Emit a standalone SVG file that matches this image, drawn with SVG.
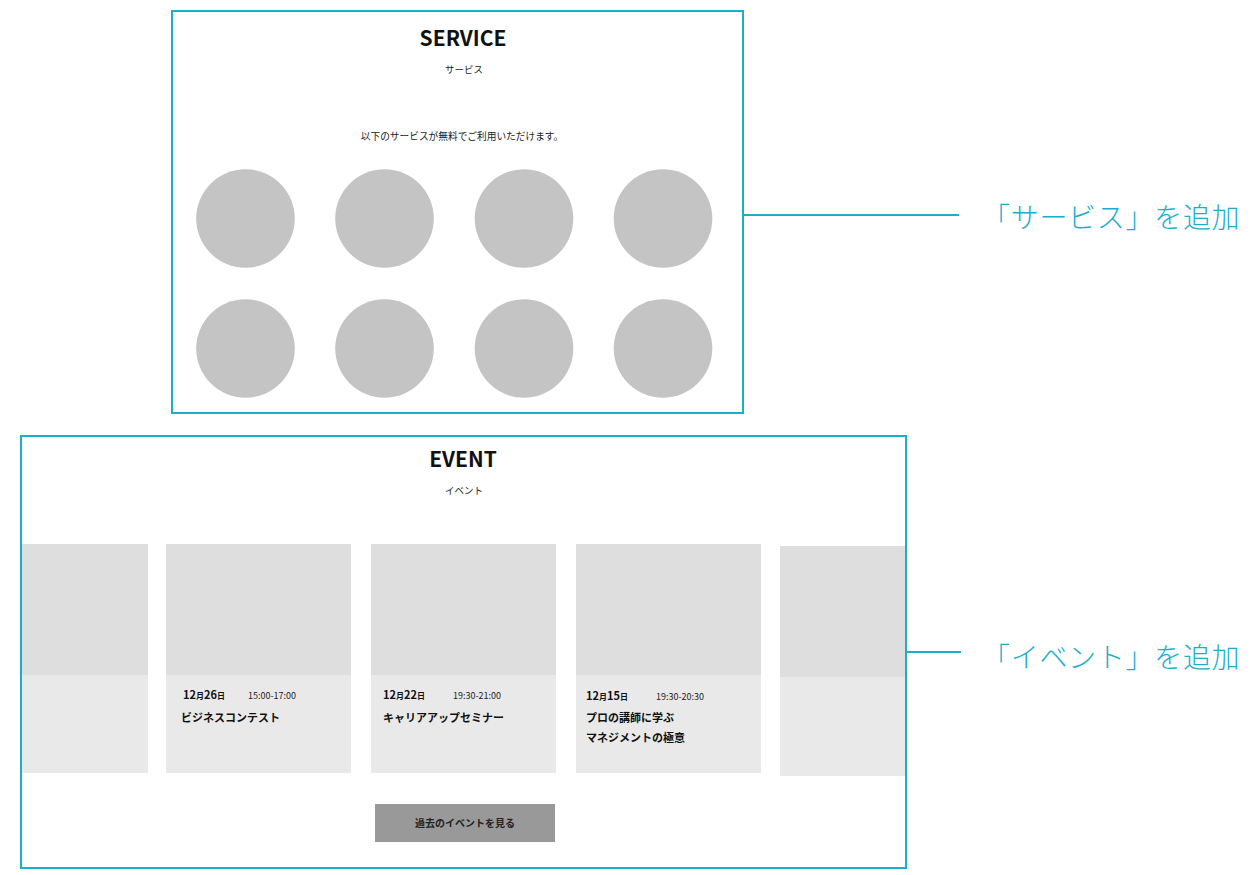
<svg xmlns="http://www.w3.org/2000/svg" width="1250" height="875" viewBox="0 0 1250 875">
<style>
.frame{fill:#fff;stroke:#1BAECB;stroke-width:2}
.conn{stroke:#1BAECB;stroke-width:2;fill:none}
.note{font-family:"Noto Sans CJK JP",sans-serif;font-weight:300;font-size:28px;letter-spacing:0.7px;fill:#1BAECB}
.h{font-family:"Noto Sans CJK JP",sans-serif;font-weight:700;font-size:21px;fill:#111;text-anchor:middle}
.sub{font-family:"Noto Sans CJK JP",sans-serif;font-size:9.5px;fill:#222;text-anchor:middle}
.lead{font-family:"Noto Sans CJK JP",sans-serif;font-size:9.7px;fill:#222;text-anchor:middle}
.circ{fill:#C4C4C4}
.img{fill:#DEDEDE}
.body{fill:#E9E9E9}
.date{font-family:"Noto Sans CJK JP",sans-serif;font-weight:700;font-size:11px;fill:#111}
.sm{font-size:8px}
.time{font-family:"Noto Sans CJK JP",sans-serif;font-size:9px;fill:#222}
.title{font-family:"Noto Sans CJK JP",sans-serif;font-weight:700;font-size:11px;fill:#111}
.btn{fill:#999999}
.btnt{font-family:"Noto Sans CJK JP",sans-serif;font-weight:700;font-size:10px;fill:#222;text-anchor:middle}
</style>
<rect width="1250" height="875" fill="#fff"/>
<g id="service">
<rect class="frame" x="172" y="11" width="571" height="402"/>
<text class="h" x="463" y="46">SERVICE</text>
<text class="sub" x="464" y="73">サービス</text>
<text class="lead" x="462" y="140">以下のサービスが無料でご利用いただけます。</text>
<circle class="circ" cx="245.5" cy="218.5" r="49.3"/>
<circle class="circ" cx="384.5" cy="218.5" r="49.3"/>
<circle class="circ" cx="524" cy="218.5" r="49.3"/>
<circle class="circ" cx="663" cy="218.5" r="49.3"/>
<circle class="circ" cx="245.5" cy="348.5" r="49.3"/>
<circle class="circ" cx="384.5" cy="348.5" r="49.3"/>
<circle class="circ" cx="524" cy="348.5" r="49.3"/>
<circle class="circ" cx="663" cy="348.5" r="49.3"/>
</g>
<g id="event">
<rect class="frame" x="21" y="436" width="885" height="432"/>
<text class="h" x="463" y="467">EVENT</text>
<text class="sub" x="464" y="494">イベント</text>
<g id="card0">
<rect class="img" x="22" y="544" width="126" height="131"/>
<rect class="body" x="22" y="675" width="126" height="98"/>
</g>
<g id="card1">
<rect class="img" x="166" y="544" width="185" height="131"/>
<rect class="body" x="166" y="675" width="185" height="98"/>
<text class="date" x="183" y="699">12<tspan class="sm">月</tspan>26<tspan class="sm">日</tspan></text>
<text class="time" x="248" y="699">15:00-17:00</text>
<text class="title" x="181" y="722">ビジネスコンテスト</text>
</g>
<g id="card2">
<rect class="img" x="371" y="544" width="185" height="131"/>
<rect class="body" x="371" y="675" width="185" height="98"/>
<text class="date" x="383" y="699">12<tspan class="sm">月</tspan>22<tspan class="sm">日</tspan></text>
<text class="time" x="453" y="699">19:30-21:00</text>
<text class="title" x="383" y="722">キャリアアップセミナー</text>
</g>
<g id="card3">
<rect class="img" x="576" y="544" width="185" height="131"/>
<rect class="body" x="576" y="675" width="185" height="98"/>
<text class="date" x="586" y="700">12<tspan class="sm">月</tspan>15<tspan class="sm">日</tspan></text>
<text class="time" x="656" y="700">19:30-20:30</text>
<text class="title" x="586" y="722">プロの講師に学ぶ</text>
<text class="title" x="586" y="742">マネジメントの極意</text>
</g>
<g id="card4">
<rect class="img" x="780" y="546" width="125" height="131"/>
<rect class="body" x="780" y="677" width="125" height="99"/>
</g>
<g id="button">
<rect class="btn" x="375" y="804" width="180" height="38"/>
<text class="btnt" x="465" y="827">過去のイベントを見る</text>
</g>
</g>
<g id="connectors">
<line class="conn" x1="743" y1="215" x2="959" y2="215"/>
<line class="conn" x1="906" y1="652" x2="961" y2="652"/>
</g>
<g id="notes">
<text class="note" x="982" y="228">「サービス」を追加</text>
<text class="note" x="982" y="668">「イベント」を追加</text>
</g>
</svg>
